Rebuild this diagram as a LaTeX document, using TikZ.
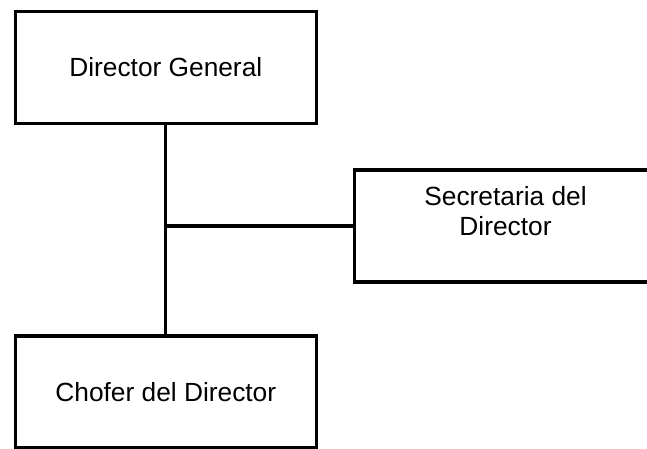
\documentclass[tikz,border=0pt]{standalone}
\usepackage{fontspec}
\setmainfont{Liberation Sans}
\begin{document}
\begin{tikzpicture}[x=1pt,y=-1pt,
  orgbox/.style={draw=black, line width=3.1pt, rectangle, minimum width=301.5pt,
    minimum height=112pt, inner sep=0pt, font=\fontsize{26.3}{30}\selectfont, align=center},
  boxtext/.style={inner sep=0pt, font=\fontsize{26.3}{30}\selectfont, align=center},
  link/.style={draw=black, line width=3.1pt}]
  \useasboundingbox (0,0) rectangle (647,449);
  \clip (0,0) rectangle (647,449);

  % boxes of the chart
  \node[orgbox] (dg) at (165.8,67.3) {Director General};
  \node[orgbox] (chofer) at (165.8,392) {Chofer del Director};
  \node[orgbox] (sec) at (505.5,226) {};
  \node[boxtext, anchor=north] (sectext) at ([yshift=-18pt]sec.north) {Secretaria del\\Director};

  % connectors
  \coordinate (junction) at (dg.south |- sec.west);
  \draw[link] (dg.south) -- (chofer.north);
  \draw[link] (junction) -- (sec.west);
\end{tikzpicture}
\end{document}
